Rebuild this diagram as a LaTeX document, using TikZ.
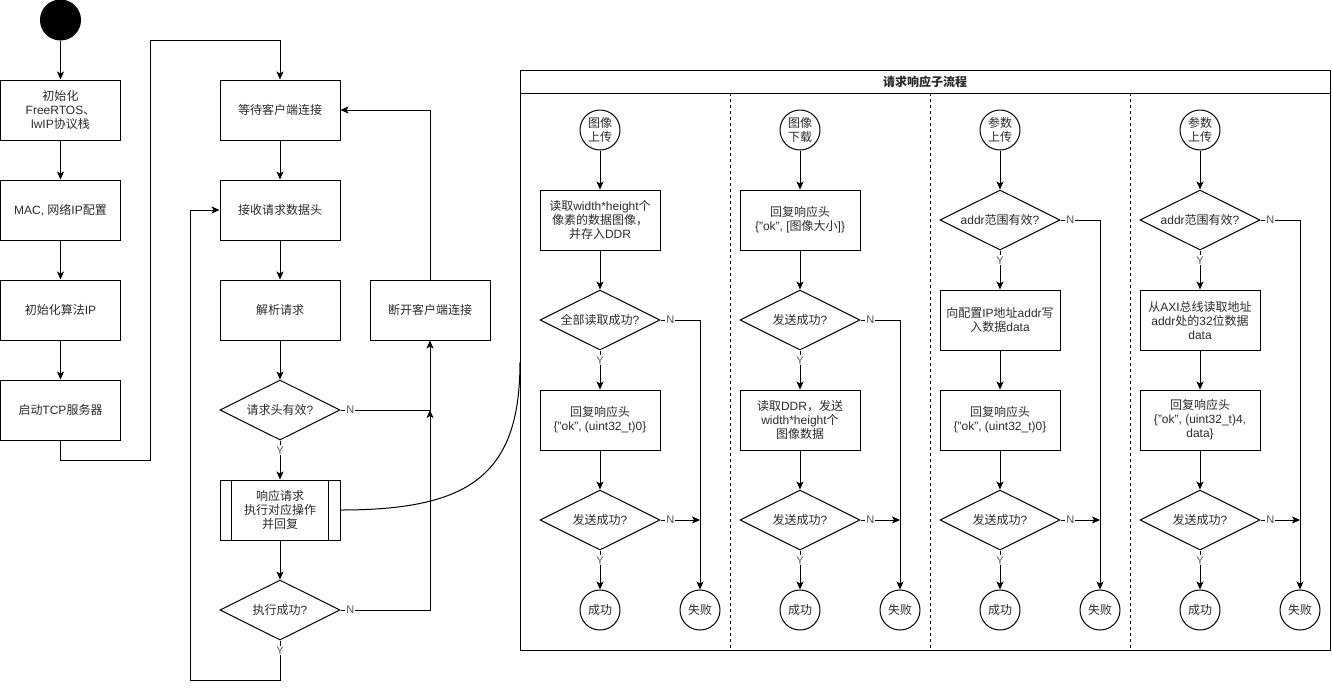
\documentclass[tikz,border=0pt]{standalone}
\usepackage{fontspec}
\setmainfont{Liberation Sans}
\newfontfamily\cjkfont{Noto Sans CJK SC}
\XeTeXinterchartokenstate=1
\newXeTeXintercharclass\CJKcls
\newcount\cjkc
\cjkc="3000
\loop \XeTeXcharclass\cjkc=\CJKcls \ifnum\cjkc<"9FFF \advance\cjkc by 1 \repeat
\cjkc="FF00
\loop \XeTeXcharclass\cjkc=\CJKcls \ifnum\cjkc<"FFEF \advance\cjkc by 1 \repeat
\XeTeXinterchartoks 0 \CJKcls = {\begingroup\cjkfont}
\XeTeXinterchartoks 4095 \CJKcls = {\begingroup\cjkfont}
\XeTeXinterchartoks \CJKcls 0 = {\endgroup}
\XeTeXinterchartoks \CJKcls 4095 = {\endgroup}
\usetikzlibrary{shapes.geometric,arrows.meta,calc}
\definecolor{txt}{HTML}{2B2B2B}
\definecolor{labc}{HTML}{555555}
\begin{document}
\begin{tikzpicture}[x=1pt,y=-1pt, line width=1pt,
  font=\fontsize{12}{14}\selectfont, text=txt,
  box/.style={draw, rectangle, minimum width=120pt, minimum height=60pt, inner sep=0pt, align=center},
  dia/.style={draw, diamond, minimum width=120pt, minimum height=60pt, inner sep=0pt},
  circ/.style={draw, circle, minimum size=40pt, inner sep=0pt, align=center},
  arr/.style={-{Stealth[length=8pt,width=7pt,inset=2pt]}},
  lab/.style={fill=white, inner sep=1pt, font=\fontsize{11}{12}\selectfont, text=labc},
  lanediv/.style={dash pattern=on 3pt off 3pt}]
\useasboundingbox (0,0) rectangle (1332,689);

% ---------- main flow, left column ----------
\node[circle, fill=black, draw=black, minimum size=40pt, inner sep=0pt] (start) at (60.5,20) {};
\node[box] (init) at (60.5,110) {初始化\\FreeRTOS、\\lwIP协议栈};
\node[box] (mac) at (60.5,210) {MAC, 网络IP配置};
\node[box] (alg) at (60.5,310) {初始化算法IP};
\node[box] (tcp) at (60.5,410) {启动TCP服务器};
\draw[arr] (start) -- (init);
\draw[arr] (init) -- (mac);
\draw[arr] (mac) -- (alg);
\draw[arr] (alg) -- (tcp);

% ---------- server loop ----------
\node[box] (wait) at (280,110) {等待客户端连接};
\node[box] (recv) at (280,210) {接收请求数据头};
\node[box] (parse) at (280,310) {解析请求};
\node[box] (disc) at (430,310) {断开客户端连接};
\node[dia, label=center:请求头有效?] (valid) at (280,410) {};
\node[box] (resp) at (280,510) {响应请求\\执行对应操作\\并回复};
\draw ([xshift=12pt]resp.north west) -- ([xshift=12pt]resp.south west);
\draw ([xshift=-12pt]resp.north east) -- ([xshift=-12pt]resp.south east);
\node[dia, label=center:执行成功?] (okd) at (280,610) {};

\coordinate (c1) at (150,460);
\coordinate (c2) at (150,40);
\draw[arr] (tcp.south) -- (tcp.south |- c1) -- (c1) -- (c2) -- (c2 -| wait) -- (wait.north);

\draw[arr] (wait) -- (recv);
\draw[arr] (recv) -- (parse);
\draw[arr] (parse) -- (valid);
\draw[arr] (valid) -- node[lab, pos=0.25] {Y} (resp);
\draw[arr] (resp) -- (okd);
\draw[arr] (valid.east) -- node[lab, pos=0.11] {N} (valid.east -| disc) -- (disc.south);
\draw[arr] (okd.east) -- node[lab, pos=0.11] {N} (okd.east -| disc) -- (disc.south |- valid.east);
\draw[arr] (disc.north) |- (wait.east);
\coordinate (l1) at (280,680);
\coordinate (l2) at (190,680);
\draw[arr] (okd.south) -- node[lab, pos=0.25] {Y} (l1) -- (l2) -- (l2 |- recv.west) -- (recv.west);

% curve to sub-process container
\coordinate (cend) at (520,362);
\draw (resp.east) .. controls (470,510) and (520,475) .. (cend);

% ---------- sub-process container ----------
\draw (520,70) rectangle (1330,650);
\draw (520,93) -- (1330,93);
\node[font=\bfseries\fontsize{12}{14}\selectfont] (title) at (925,81.5) {请求响应子流程};
\draw[lanediv] (730,93) -- (730,650);
\draw[lanediv] (930,93) -- (930,650);
\draw[lanediv] (1130,93) -- (1130,650);

% lane 1
\node[circ] (u1) at (600,130) {图像\\上传};
\node[box] (a1) at (600,220) {读取width*height个\\像素的数据图像，\\并存入DDR};
\node[dia, label=center:全部读取成功?] (d1) at (600,320) {};
\node[box] (b1) at (600,420) {回复响应头\\\{"ok", (uint32\_t)0\}};
\node[dia, label=center:发送成功?] (e1) at (600,520) {};
\node[circ] (s1) at (600,610) {成功};
\node[circ] (f1) at (700,610) {失败};
\draw[arr] (u1) -- (a1);
\draw[arr] (a1) -- (d1);
\draw[arr] (d1) -- node[lab, pos=0.25] {Y} (b1);
\draw[arr] (b1) -- (e1);
\draw[arr] (e1) -- node[lab, pos=0.25] {Y} (s1);
\draw[arr] (d1.east) -- node[lab, pos=0.25] {N} (d1.east -| f1) -- (f1.north);
\draw[arr] (e1.east) -- node[lab, pos=0.25] {N} (e1.east -| f1);

% lane 2
\node[circ] (u2) at (800,130) {图像\\下载};
\node[box] (a2) at (800,220) {回复响应头\\\{"ok", [图像大小]\}};
\node[dia, label=center:发送成功?] (d2) at (800,320) {};
\node[box] (b2) at (800,420) {读取DDR，发送\\width*height个\\图像数据};
\node[dia, label=center:发送成功?] (e2) at (800,520) {};
\node[circ] (s2) at (800,610) {成功};
\node[circ] (f2) at (900,610) {失败};
\draw[arr] (u2) -- (a2);
\draw[arr] (a2) -- (d2);
\draw[arr] (d2) -- node[lab, pos=0.25] {Y} (b2);
\draw[arr] (b2) -- (e2);
\draw[arr] (e2) -- node[lab, pos=0.25] {Y} (s2);
\draw[arr] (d2.east) -- node[lab, pos=0.25] {N} (d2.east -| f2) -- (f2.north);
\draw[arr] (e2.east) -- node[lab, pos=0.25] {N} (e2.east -| f2);

% lane 3
\node[circ] (u3) at (1000,130) {参数\\上传};
\node[dia, label=center:addr范围有效?] (d3) at (1000,220) {};
\node[box] (a3) at (1000,320) {向配置IP地址addr写\\入数据data};
\node[box] (b3) at (1000,420) {回复响应头\\\{"ok", (uint32\_t)0\}};
\node[dia, label=center:发送成功?] (e3) at (1000,520) {};
\node[circ] (s3) at (1000,610) {成功};
\node[circ] (f3) at (1100,610) {失败};
\draw[arr] (u3) -- (d3);
\draw[arr] (d3) -- node[lab, pos=0.25] {Y} (a3);
\draw[arr] (a3) -- (b3);
\draw[arr] (b3) -- (e3);
\draw[arr] (e3) -- node[lab, pos=0.25] {Y} (s3);
\draw[arr] (d3.east) -- node[lab, pos=0.25] {N} (d3.east -| f3) -- (f3.north);
\draw[arr] (e3.east) -- node[lab, pos=0.25] {N} (e3.east -| f3);

% lane 4
\node[circ] (u4) at (1200,130) {参数\\上传};
\node[dia, label=center:addr范围有效?] (d4) at (1200,220) {};
\node[box] (a4) at (1200,320) {从AXI总线读取地址\\addr处的32位数据\\data};
\node[box] (b4) at (1200,420) {回复响应头\\\{"ok", (uint32\_t)4,\\data\}};
\node[dia, label=center:发送成功?] (e4) at (1200,520) {};
\node[circ] (s4) at (1200,610) {成功};
\node[circ] (f4) at (1300,610) {失败};
\draw[arr] (u4) -- (d4);
\draw[arr] (d4) -- node[lab, pos=0.25] {Y} (a4);
\draw[arr] (a4) -- (b4);
\draw[arr] (b4) -- (e4);
\draw[arr] (e4) -- node[lab, pos=0.25] {Y} (s4);
\draw[arr] (d4.east) -- node[lab, pos=0.25] {N} (d4.east -| f4) -- (f4.north);
\draw[arr] (e4.east) -- node[lab, pos=0.25] {N} (e4.east -| f4);
\end{tikzpicture}
\end{document}
